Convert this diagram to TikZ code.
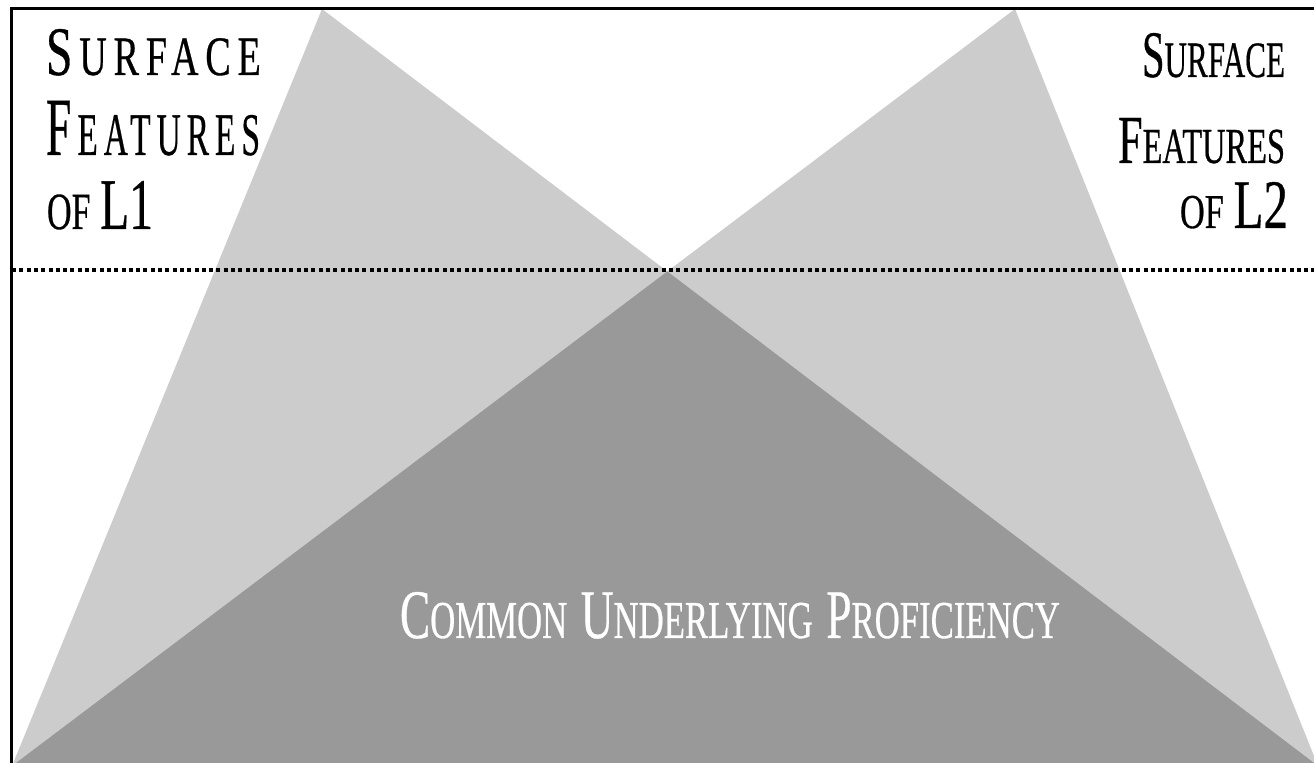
\documentclass[tikz,border=0pt]{standalone}
\usepackage{fontspec}
\usepackage{graphicx}
\setmainfont{Liberation Serif}[FakeBold=0.6]
% wide tracking for the left-hand caption
\newfontfamily\trackedserif{Liberation Serif}[LetterSpace=18,FakeBold=0.6]
\newcommand{\bigsc}[1]{{\fontsize{30}{30}\selectfont #1}}
\newcommand{\smallsc}[2]{{\fontsize{#1}{#1}\selectfont #2}}
\newcommand{\wordgap}{\kern9pt}

\tikzset{
  lightshade/.style={fill={rgb,255:red,204;green,204;blue,204}},
  darkshade/.style={fill={rgb,255:red,153;green,153;blue,153}},
  dotline/.style={line width=2pt, dash pattern=on 2pt off 1.65pt},
  frameline/.style={line width=1.8pt, black},
  caption/.style={inner sep=0pt, outer sep=0pt, text=black},
  captionwhite/.style={inner sep=0pt, outer sep=0pt, text=white}
}

\begin{document}
\begin{tikzpicture}[x=0.5pt,y=-0.5pt]
  \useasboundingbox (0,0) rectangle (1314,763);
  \clip (0,0) rectangle (1314,763);

  % corner points of the two overlapping triangles
  \coordinate (apexL) at (322,9);
  \coordinate (apexR) at (1015,9);
  \coordinate (baseL) at (12,766);
  \coordinate (baseR) at (1318,766);
  \coordinate (cross) at (intersection of apexL--baseR and apexR--baseL);

  \fill[lightshade] (apexL) -- (baseL) -- (baseR) -- cycle;
  \fill[lightshade] (apexR) -- (baseL) -- (baseR) -- cycle;
  \fill[darkshade] (cross) -- (baseL) -- (baseR) -- cycle;

  % dotted divider between surface and underlying levels
  \coordinate (dotL) at (12,270);
  \coordinate (dotR) at (1314,270);
  \draw[dotline] (dotL) -- (dotR);

  % frame (left and top edges)
  \coordinate (frameBL) at (11.5,800);
  \coordinate (frameTR) at (1340,8.5);
  \draw[frameline] (frameBL) |- (frameTR);

  % left caption
  \node[caption, anchor=base west] (l1a) at (46,75)
    {\resizebox{104pt}{23pt}{\trackedserif\bigsc{S}\kern4.3pt\smallsc{24}{URFACE\kern-0.18em}}};
  \node[caption, anchor=base west] (l1b) at (46,155)
    {\resizebox{104pt}{27pt}{\trackedserif\bigsc{F}\kern4pt\smallsc{22}{EATURES\kern-0.18em}}};
  \node[caption, anchor=base west] (l1c) at (47,229)
    {\resizebox{53pt}{24pt}{\smallsc{21.5}{OF}\kern6pt\bigsc{L1}}};

  % right caption
  \node[caption, anchor=base east] (l2a) at (1285,77)
    {\resizebox{71.5pt}{22pt}{\bigsc{S}\smallsc{23}{URFACE}}};
  \node[caption, anchor=base east] (l2b) at (1285,163)
    {\resizebox{83.5pt}{22.5pt}{\bigsc{F}\smallsc{22}{EATURES}}};
  \node[caption, anchor=base east] (l2c) at (1288,228)
    {\resizebox{54pt}{23pt}{\smallsc{21}{OF}\kern6pt\bigsc{L2}}};

  % shared proficiency label
  \node[captionwhite, anchor=base west] (cup) at (400,638)
    {\resizebox{330pt}{23pt}{\bigsc{C}\smallsc{23}{OMMON}\wordgap\bigsc{U}\smallsc{23}{NDERLYING}\wordgap\bigsc{P}\smallsc{23}{ROFICIENCY}}};
\end{tikzpicture}
\end{document}
